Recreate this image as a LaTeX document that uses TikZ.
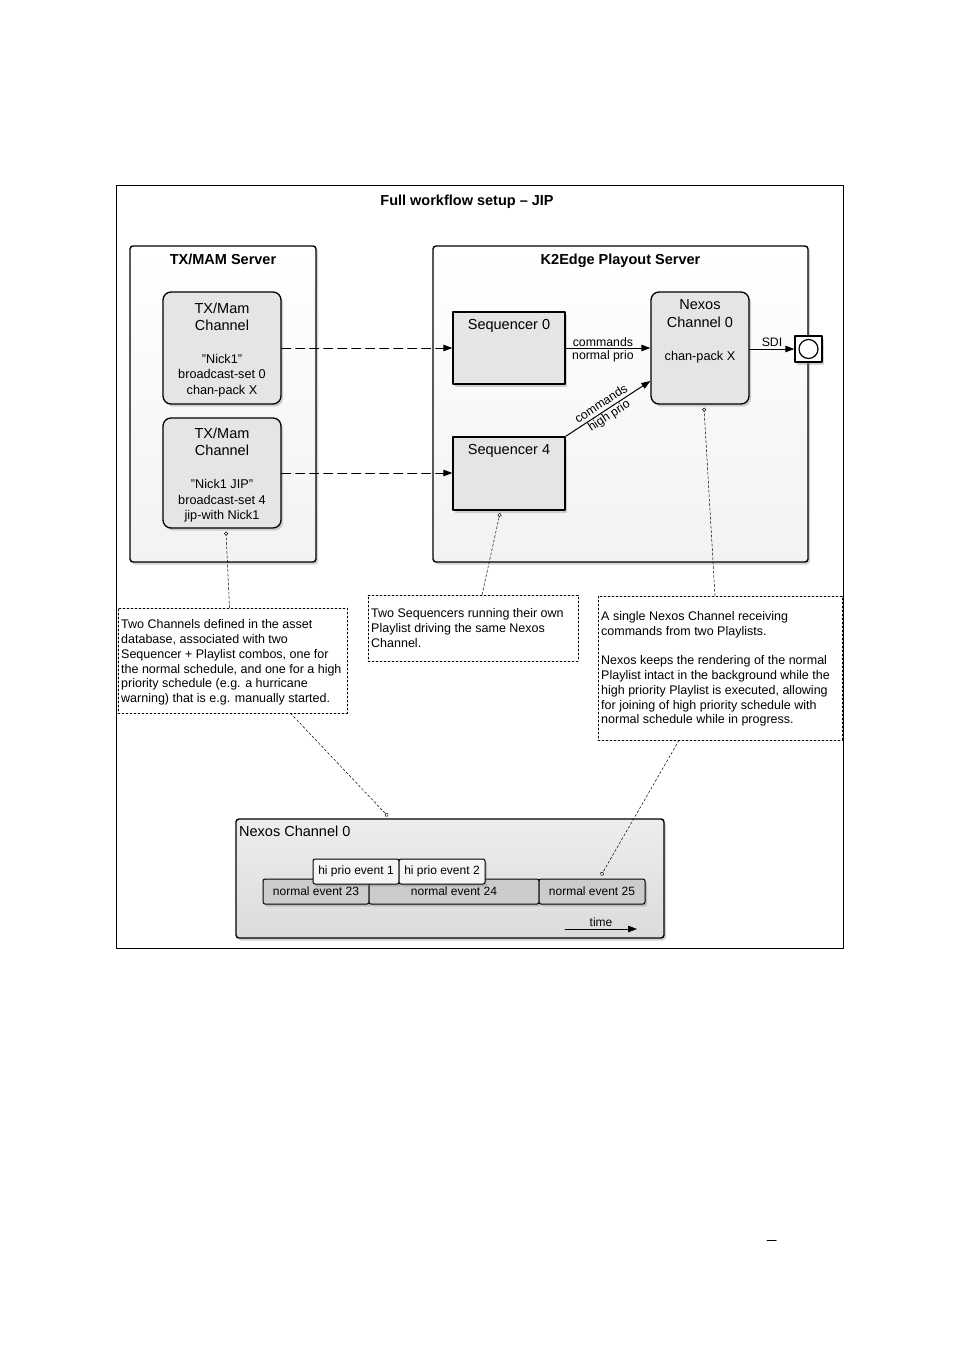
\documentclass[tikz,border=0pt]{standalone}
\usepackage{fontspec}
\setmainfont{Liberation Sans}
\usetikzlibrary{shadows,arrows.meta}
\definecolor{srvgray}{rgb}{0.95,0.95,0.95}
\definecolor{boxgray}{rgb}{0.90,0.90,0.90}
\definecolor{chbot}{rgb}{0.86,0.86,0.86}
\definecolor{evgray}{rgb}{0.80,0.80,0.80}
\definecolor{higray}{rgb}{0.96,0.96,0.96}
\newcommand{\bigtxt}{\fontsize{14.5}{17}\selectfont}
\newcommand{\smalltxt}{\fontsize{12.5}{14.8}\selectfont}
\newcommand{\chantxt}{\fontsize{12.7}{15.5}\selectfont}
\newcommand{\cmdtxt}{\fontsize{12.3}{13}\selectfont}
\newcommand{\evtxt}{\fontsize{12}{14}\selectfont}
\tikzset{
  myshadow/.style={drop shadow={shadow xshift=2pt,shadow yshift=-2.5pt,opacity=0.35}},
  outerframe/.style={draw,line width=0.8pt,inner sep=0},
  server/.style={draw,line width=1.4pt,rounded corners=3pt,top color=white,bottom color=srvgray,myshadow,inner sep=0},
  chanbox/.style={draw,line width=1.3pt,rounded corners=8pt,fill=boxgray,myshadow,inner sep=0},
  seqbox/.style={draw,line width=1.3pt,fill=boxgray,myshadow,inner sep=0},
  portbox/.style={draw,line width=1.3pt,fill=white,myshadow,inner sep=0,minimum width=27pt,minimum height=26pt},
  notebox/.style={draw,line width=0.5pt,dash pattern=on 2pt off 2pt,inner sep=0},
  notetext/.style={anchor=north west,align=left,inner sep=0,font=\smalltxt},
  noteline/.style={line width=0.5pt,dash pattern=on 2.5pt off 2pt,-{Circle[fill=white,length=4pt]}},
  feed/.style={line width=0.8pt,dash pattern=on 9pt off 5pt,->},
  cmd/.style={line width=1pt,->},
  cmdlabel/.style={align=center,inner sep=0,font=\cmdtxt},
  boxtitle/.style={anchor=base,inner sep=0,font=\bigtxt},
  evnormal/.style={draw,line width=1pt,rounded corners=2pt,fill=evgray,myshadow,inner sep=0,minimum height=25pt,font=\evtxt},
  evhigh/.style={draw,line width=1pt,rounded corners=2pt,fill=higray,myshadow,inner sep=0,minimum height=25pt,font=\evtxt}
}
\begin{document}
\begin{tikzpicture}[line cap=round,line join=round,>={Triangle[length=9pt,width=6.5pt]},x=1pt,y=-1pt]
\useasboundingbox (0,0) rectangle (954,1349);
\node[outerframe,minimum width=727pt,minimum height=763pt] (frame) at (479.5,566.5) {};
\node[boxtitle,font=\bigtxt\bfseries] (title) at (467,205.2) {Full workflow setup -- JIP};

\node[server,minimum width=186pt,minimum height=316pt] (txmam) at (223,404) {};
\node[boxtitle,font=\bigtxt\bfseries] (txmamtitle) at (223,264.2) {TX/MAM Server};
\node[server,minimum width=375pt,minimum height=316pt] (k2edge) at (620.5,404) {};
\node[boxtitle,font=\bigtxt\bfseries] (k2edgetitle) at (620.5,264.2) {K2Edge Playout Server};

\node[chanbox,minimum width=118pt,minimum height=112pt] (chan1) at (222,348) {};
\node[align=center,inner sep=0,font=\bigtxt] (chan1top) at (222,317) {TX/Mam\\Channel};
\node[align=center,inner sep=0,font=\chantxt] (chan1bot) at (222,375.5) {"Nick1"\\broadcast-set 0\\chan-pack X};
\node[chanbox,minimum width=118pt,minimum height=110pt] (chan2) at (222,473) {};
\node[align=center,inner sep=0,font=\bigtxt] (chan2top) at (222,442) {TX/Mam\\Channel};
\node[align=center,inner sep=0,font=\chantxt] (chan2bot) at (222,501) {"Nick1 JIP"\\broadcast-set 4\\jip-with Nick1};

\node[seqbox,minimum width=112pt,minimum height=72pt] (seq0) at (509,348) {};
\node[boxtitle] (seq0txt) at (509,329.2) {Sequencer 0};
\node[seqbox,minimum width=112pt,minimum height=73pt] (seq4) at (509,473.5) {};
\node[boxtitle] (seq4txt) at (509,454.2) {Sequencer 4};

\node[chanbox,minimum width=98pt,minimum height=112pt] (nexos) at (700,348) {};
\node[align=center,inner sep=0,font=\fontsize{14.5}{18}\selectfont] (nexostop) at (700,313.5) {Nexos\\Channel 0};
\node[font=\chantxt] (nexosbot) at (700,357.5) {chan-pack X};

\node[portbox] (port) at (808.5,349) {};
\draw[line width=1.2pt] (port.center) circle (9.5pt);

\draw[feed] (chan1.east) -- (seq0.west);
\draw[feed] (chan2.east) -- (seq4.west |- chan2.east);
\draw[cmd] (seq0.east) -- node[cmdlabel,pos=0.44,yshift=-1.5pt] (cmdnormal) {commands\\normal prio} (nexos.west);
\draw[cmd] (seq4.north east) -- node[cmdlabel,sloped,pos=0.47,font=\fontsize{12.3}{14}\selectfont] (cmdhigh) {commands\\high prio} ([yshift=-33pt]nexos.west);
\draw[cmd] (nexos.east |- port.west) -- node[above,inner sep=1.5pt,font=\cmdtxt] (sdi) {SDI} (port.west);

\node[notebox,minimum width=229pt,minimum height=105pt] (noteA) at (232.5,660.5) {};
\node[notetext] (noteAtxt) at (121,619.5) {Two Channels defined in the asset\\database, associated with two\\Sequencer + Playlist combos, one for\\the normal schedule, and one for a high\\priority schedule (e.g. a hurricane\\warning) that is e.g. manually started.};
\node[notebox,minimum width=210pt,minimum height=66pt] (noteB) at (473,628) {};
\node[notetext] (noteBtxt) at (371,608.5) {Two Sequencers running their own\\Playlist driving the same Nexos\\Channel.};
\node[notebox,minimum width=244pt,minimum height=144pt] (noteC) at (720,668) {};
\node[notetext] (noteCtxt) at (601,611.5) {A single Nexos Channel receiving\\commands from two Playlists.\\[14.3pt]Nexos keeps the rendering of the normal\\Playlist intact in the background while the\\high priority Playlist is executed, allowing\\for joining of high priority schedule with\\normal schedule while in progress.};

\node[server,rounded corners=3pt,top color=boxgray!70,bottom color=chbot,minimum width=428pt,minimum height=119pt] (timeline) at (450,878.5) {};
\node[anchor=west,inner sep=0,font=\bigtxt] (timelinetitle) at (239,831.5) {Nexos Channel 0};
\node[evnormal,minimum width=106pt] (ev23) at (316,891.5) {normal event 23};
\node[evnormal,minimum width=170pt] (ev24) at (454,891.5) {normal event 24};
\node[evnormal,minimum width=106pt] (ev25) at (592,891.5) {normal event 25};
\node[evhigh,minimum width=86pt] (hi1) at (356,871.5) {hi prio event 1};
\node[evhigh,minimum width=86pt] (hi2) at (442,871.5) {hi prio event 2};
\coordinate (timeA) at (565,929);
\coordinate (timeB) at (637,929);
\draw[line width=0.7pt,->] (timeA) -- node[above,inner sep=2.5pt,font=\evtxt] (timetxt) {time} (timeB);

\draw[noteline] ([xshift=-3pt]noteA.north) -- ([xshift=4pt,yshift=-3pt]chan2.south);
\draw[noteline] ([xshift=9pt]noteB.north) -- ([xshift=-9pt,yshift=-2.5pt]seq4.south);
\draw[noteline] ([xshift=-5pt]noteC.north) -- ([xshift=4pt,yshift=-3pt]nexos.south);
\draw[noteline] ([xshift=58pt]noteA.south) -- ([xshift=-62pt,yshift=2pt]timeline.north);
\draw[noteline] ([xshift=-41pt]noteC.south) -- ([xshift=9pt,yshift=3pt]ev25.north);

\draw[line width=1pt] (767,1240) -- (776,1240);
\end{tikzpicture}
\end{document}
